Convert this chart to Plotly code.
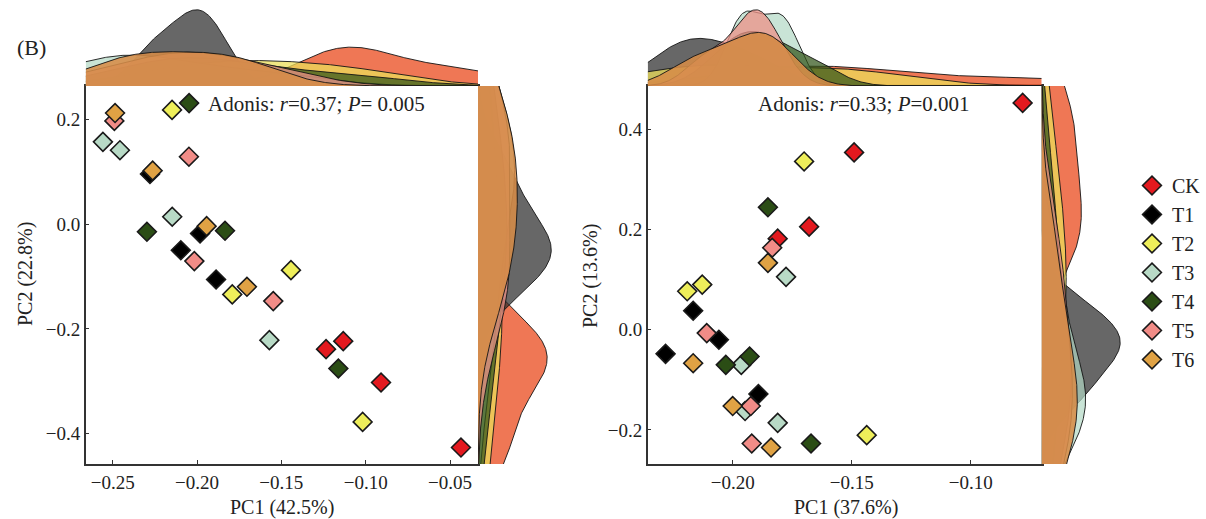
import numpy as np
import plotly.graph_objects as go

groups = ["CK", "T1", "T2", "T3", "T4", "T5", "T6"]
marker_colors = ["#E3191F", "#000000", "#EEEE5A", "#B8DAC6", "#2B4D15", "#F18C87", "#E0A244"]
kde_colors = ["rgba(236,95,55,0.85)", "rgba(45,45,45,0.72)", "rgba(236,222,90,0.75)",
              "rgba(178,216,196,0.7)", "rgba(50,85,25,0.72)", "rgba(236,145,135,0.75)",
              "rgba(214,140,72,0.88)"]

# Panel A (left)
a_group = ["CK", "CK", "CK", "CK",
           "T1", "T1", "T1", "T1",
           "T2", "T2", "T2", "T2",
           "T3", "T3", "T3", "T3",
           "T4", "T4", "T4", "T4",
           "T5", "T5", "T5", "T5",
           "T6", "T6", "T6", "T6"]
a_pc1 = [-0.1235, -0.1133, -0.0909, -0.0435,
         -0.2279, -0.1982, -0.2096, -0.1887,
         -0.2148, -0.1791, -0.1443, -0.1018,
         -0.2558, -0.2457, -0.2147, -0.1571,
         -0.2047, -0.2297, -0.1834, -0.1162,
         -0.2490, -0.2048, -0.2016, -0.1548,
         -0.2486, -0.2263, -0.1943, -0.1704]
a_pc2 = [-0.2388, -0.2235, -0.3024, -0.4266,
         0.0955, -0.0180, -0.0500, -0.1057,
         0.2180, -0.1343, -0.0879, -0.3776,
         0.1570, 0.1410, 0.0140, -0.2216,
         0.2310, -0.0147, -0.0128, -0.2757,
         0.1970, 0.1286, -0.0707, -0.1470,
         0.2120, 0.1020, -0.0040, -0.1197]

# Panel B (right)
b_group = a_group
b_pc1 = [-0.0782, -0.1490, -0.1679, -0.1811,
         -0.2166, -0.2058, -0.2282, -0.1892,
         -0.1700, -0.2191, -0.2128, -0.1437,
         -0.1776, -0.1964, -0.1948, -0.1811,
         -0.1852, -0.2029, -0.1929, -0.1671,
         -0.1834, -0.2109, -0.1924, -0.1920,
         -0.1852, -0.2166, -0.2000, -0.1839]
b_pc2 = [0.4529, 0.3540, 0.2058, 0.1818,
         0.0380, -0.0200, -0.0481, -0.1283,
         0.3360, 0.0768, 0.0902, -0.2104,
         0.1056, -0.0701, -0.1623, -0.1858,
         0.2445, -0.0701, -0.0535, -0.2271,
         0.1637, -0.0067, -0.1523, -0.2271,
         0.1336, -0.0668, -0.1523, -0.2351]

a_xrange = [-0.266, -0.0334]
a_yrange = [-0.458, 0.2636]
b_xrange = [-0.2357, -0.0702]
b_yrange = [-0.268, 0.4866]

a_xticks = [-0.25, -0.20, -0.15, -0.10, -0.05]
a_yticks = [-0.4, -0.2, 0.0, 0.2]
b_xticks = [-0.20, -0.15, -0.10]
b_yticks = [-0.2, 0.0, 0.2, 0.4]

titles = {"a_x": "PC1 (42.5%)", "a_y": "PC2 (22.8%)", "b_x": "PC1 (37.6%)", "b_y": "PC2 (13.6%)"}
adonis_a = "Adonis: <i>r</i>=0.37; <i>P</i>= 0.005"
adonis_b = "Adonis: <i>r</i>=0.33; <i>P</i>=0.001"

FONT = "Liberation Serif"
W, H = 1206, 519


def px(v):
    return v / W


def py(v):
    return 1 - v / H


def kde(vals, grid):
    vals = np.asarray(vals)
    n = len(vals)
    bw = np.std(vals, ddof=1) * n ** (-0.2)
    z = (grid[:, None] - vals[None, :]) / bw
    return np.exp(-0.5 * z ** 2).sum(axis=1) / (n * bw * np.sqrt(2 * np.pi))


fig = go.Figure()


def add_panel(grp, xs, ys, xr, yr, ax_main, ax_top, ax_right, show_legend):
    grp = np.array(grp)
    xs = np.array(xs)
    ys = np.array(ys)
    gx = np.linspace(xr[0], xr[1], 400)
    gy = np.linspace(yr[0], yr[1], 400)
    tops, rights = [], []
    for g, fc in zip(groups, kde_colors):
        m = grp == g
        dx = kde(xs[m], gx)
        dy = kde(ys[m], gy)
        tops.append(dx.max())
        rights.append(dy.max())
        fig.add_trace(go.Scatter(x=gx, y=dx, mode="lines", fill="tozeroy", fillcolor=fc,
                                 line=dict(color="rgba(20,20,20,0.9)", width=1),
                                 xaxis=ax_top[0], yaxis=ax_top[1], showlegend=False, hoverinfo="skip"))
        fig.add_trace(go.Scatter(x=dy, y=gy, mode="lines", fill="tozerox", fillcolor=fc,
                                 line=dict(color="rgba(20,20,20,0.9)", width=1),
                                 xaxis=ax_right[0], yaxis=ax_right[1], showlegend=False, hoverinfo="skip"))
    for g, mc in zip(groups, marker_colors):
        m = grp == g
        fig.add_trace(go.Scatter(x=xs[m], y=ys[m], mode="markers", name=g,
                                 marker=dict(symbol="diamond", size=14.5, color=mc,
                                             line=dict(color="#1a1a1a", width=1.6)),
                                 xaxis=ax_main[0], yaxis=ax_main[1], showlegend=show_legend))
    return max(tops), max(rights)


ta, ra = add_panel(a_group, a_pc1, a_pc2, a_xrange, a_yrange, ("x", "y"), ("x2", "y2"), ("x3", "y3"), True)
tb, rb = add_panel(b_group, b_pc1, b_pc2, b_xrange, b_yrange, ("x4", "y4"), ("x5", "y5"), ("x6", "y6"), False)

tickfont = dict(family=FONT, size=19, color="#222")
main_ax = dict(showgrid=False, zeroline=False, showline=True, linecolor="#333", linewidth=1.5,
               mirror=True, ticks="inside", ticklen=4, tickwidth=1, tickcolor="#333", tickfont=tickfont)
hidden = dict(visible=False, showgrid=False, zeroline=False)

main_bottom, main_top = py(464), py(86)
a_left, a_right = px(85.7), px(478)
b_left, b_right = px(647.7), px(1041.7)


def note(text, x, y, size=20, angle=0, xanchor="center"):
    return dict(text=text, x=px(x), y=py(y), xref="paper", yref="paper", showarrow=False,
                xanchor=xanchor, yanchor="middle", textangle=angle,
                font=dict(family=FONT, size=size, color="#222"))


fig.update_layout(
    width=W, height=H, margin=dict(l=0, r=0, t=0, b=0),
    plot_bgcolor="white", paper_bgcolor="white",
    font=dict(family=FONT, color="#222"),
    xaxis=dict(main_ax, domain=[a_left, a_right], range=a_xrange, tickvals=a_xticks,
               tickformat=".2f", anchor="y"),
    yaxis=dict(main_ax, domain=[main_bottom, main_top], range=a_yrange, tickvals=a_yticks,
               tickformat=".1f", anchor="x"),
    xaxis2=dict(hidden, domain=[a_left, a_right], range=a_xrange, anchor="y2"),
    yaxis2=dict(hidden, domain=[main_top, py(9)], range=[0, ta * 1.01], anchor="x2"),
    xaxis3=dict(hidden, domain=[a_right, px(552)], range=[0, ra * 1.01], anchor="y3"),
    yaxis3=dict(hidden, domain=[main_bottom, main_top], range=a_yrange, anchor="x3"),
    xaxis4=dict(main_ax, domain=[b_left, b_right], range=b_xrange, tickvals=b_xticks,
                tickformat=".2f", anchor="y4"),
    yaxis4=dict(main_ax, domain=[main_bottom, main_top], range=b_yrange, tickvals=b_yticks,
                tickformat=".1f", anchor="x4"),
    xaxis5=dict(hidden, domain=[b_left, b_right], range=b_xrange, anchor="y5"),
    yaxis5=dict(hidden, domain=[main_top, py(9)], range=[0, tb * 1.01], anchor="x5"),
    xaxis6=dict(hidden, domain=[b_right, px(1121)], range=[0, rb * 1.01], anchor="y6"),
    yaxis6=dict(hidden, domain=[main_bottom, main_top], range=b_yrange, anchor="x6"),
    legend=dict(x=px(1132), y=py(166), xanchor="left", yanchor="top",
                font=dict(family=FONT, size=20, color="#222"), bgcolor="rgba(0,0,0,0)",
                itemwidth=30, tracegroupgap=0),
    showlegend=True,
    annotations=[
        note("(B)", 15, 48, size=22, xanchor="left"),
        note(adonis_a, 206, 104, size=21, xanchor="left"),
        note(adonis_b, 756, 104, size=21, xanchor="left"),
        note(titles["a_x"], 282, 507),
        note(titles["b_x"], 846, 507),
        note(titles["a_y"], 25, 274, angle=-90),
        note(titles["b_y"], 590, 276, angle=-90),
    ],
)

fig.write_html("out.html")
